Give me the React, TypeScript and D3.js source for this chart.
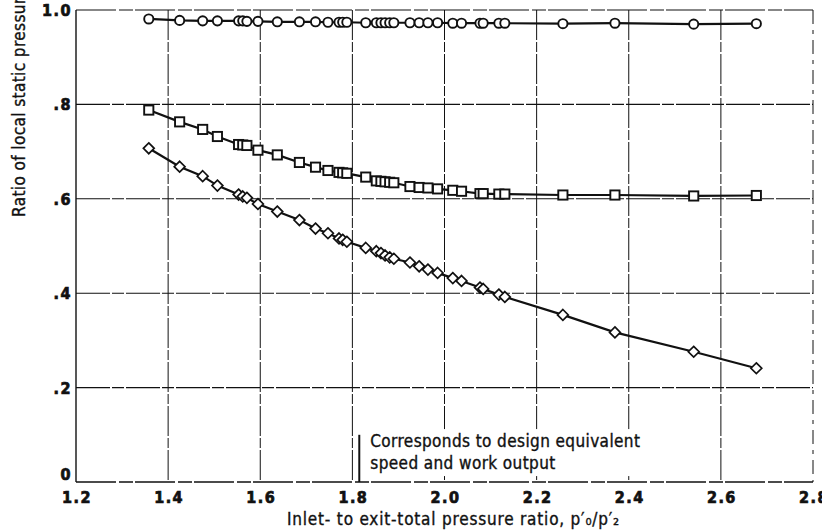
import * as d3 from "d3";
import { useEffect, useRef } from "react";

const W = 822;
const H = 531;

// inlet- to exit-total pressure ratio at each reading (shared by the three stations)
const pressureRatio = [
  1.358, 1.425, 1.475, 1.507, 1.553, 1.562, 1.571, 1.595, 1.637, 1.685, 1.72, 1.747,
  1.771, 1.779, 1.788, 1.829, 1.852, 1.862, 1.871, 1.881, 1.89, 1.925, 1.945, 1.964,
  1.985, 2.018, 2.037, 2.077, 2.084, 2.118, 2.131, 2.257, 2.37, 2.541, 2.677,
];
const circleSeries = [
  0.981, 0.978, 0.977, 0.977, 0.977, 0.977, 0.976, 0.976, 0.975, 0.975, 0.975, 0.974,
  0.974, 0.974, 0.974, 0.973, 0.973, 0.973, 0.973, 0.973, 0.973, 0.973, 0.973, 0.973,
  0.973, 0.972, 0.972, 0.972, 0.972, 0.972, 0.972, 0.971, 0.972, 0.970, 0.971,
];
const squareSeries = [
  0.788, 0.763, 0.747, 0.732, 0.715, 0.714, 0.713, 0.703, 0.693, 0.677, 0.667, 0.66,
  0.656, 0.655, 0.654, 0.646, 0.638, 0.637, 0.636, 0.635, 0.634, 0.626, 0.624, 0.623,
  0.621, 0.618, 0.616, 0.611, 0.611, 0.61, 0.61, 0.608, 0.608, 0.606, 0.607,
];
const diamondSeries = [
  0.707, 0.668, 0.648, 0.628, 0.609, 0.605, 0.602, 0.589, 0.573, 0.555, 0.537, 0.527,
  0.516, 0.513, 0.509, 0.496, 0.489, 0.485, 0.48, 0.476, 0.473, 0.465, 0.457, 0.45,
  0.443, 0.432, 0.426, 0.412, 0.409, 0.397, 0.392, 0.354, 0.317, 0.276, 0.241,
];

const xTicks = [1.2, 1.4, 1.6, 1.8, 2.0, 2.2, 2.4, 2.6, 2.8];
const xTickLabels = ["1.2", "1.4", "1.6", "1.8", "2.0", "2.2", "2.4", "2.6", "2.8"];
const yTicks = [0, 0.2, 0.4, 0.6, 0.8, 1.0];
const yTickLabels = ["0", ".2", ".4", ".6", ".8", "1.0"];

const designRatio = 1.815;
const noteLines = ["Corresponds to design equivalent", "speed and work output"];

const FONT = "'DejaVu Sans Condensed', 'Liberation Sans Narrow', 'DejaVu Sans', sans-serif";
const INK = "#111";

type Shape = "circle" | "square" | "diamond";

function Marker({ shape, cx, cy }: { shape: Shape; cx: number; cy: number }) {
  if (shape === "circle") return <circle cx={cx} cy={cy} r={4.6} fill="#fff" stroke={INK} strokeWidth={1.9} />;
  if (shape === "square") return <rect x={cx - 4.6} y={cy - 4.6} width={9.2} height={9.2} fill="#fff" stroke={INK} strokeWidth={1.9} />;
  const r = 5.4;
  return <path d={`M${cx},${cy - r}L${cx + r},${cy}L${cx},${cy + r}L${cx - r},${cy}Z`} fill="#fff" stroke={INK} strokeWidth={1.7} />;
}

export default function App() {
  const noteRef = useRef<SVGGElement>(null);
  const maskRef = useRef<SVGRectElement>(null);

  const x = d3.scaleLinear().domain([1.2, 2.8]).range([76, 813]);
  const y = d3.scaleLinear().domain([0, 1]).range([482, 10]);

  const series: { shape: Shape; values: number[] }[] = [
    { shape: "circle", values: circleSeries },
    { shape: "square", values: squareSeries },
    { shape: "diamond", values: diamondSeries },
  ];

  const line = d3
    .line<number>()
    .x((_, i) => x(pressureRatio[i]))
    .y((d) => y(d));

  // white patch behind the note so the grid breaks around it, as on the original
  useEffect(() => {
    if (!noteRef.current || !maskRef.current) return;
    const b = noteRef.current.getBBox();
    d3.select(maskRef.current)
      .attr("x", b.x - 3)
      .attr("y", b.y - 2)
      .attr("width", b.width + 6)
      .attr("height", b.height + 5);
  }, []);

  const dx = x(designRatio);
  const textInk = { fill: INK, stroke: INK, strokeWidth: 0.35 };

  return (
    <svg width={W} height={H} style={{ position: "absolute", left: 0, top: 0, background: "#fff" }} fontFamily={FONT}>
      {/* grid */}
      {xTicks.slice(1, -1).map((t) => (
        <line key={`gx${t}`} x1={x(t)} x2={x(t)} y1={y(1)} y2={y(0)} stroke={INK} strokeWidth={1} strokeDasharray="30 2 10 2" />
      ))}
      {yTicks.slice(1, -1).map((t) => (
        <line key={`gy${t}`} x1={x(1.2)} x2={x(2.8)} y1={y(t)} y2={y(t)} stroke={INK} strokeWidth={1.1} strokeDasharray="34 2 12 2" />
      ))}

      {/* note */}
      <rect ref={maskRef} fill="#fff" />
      <line x1={dx} x2={dx} y1={y(0.1)} y2={y(0)} stroke={INK} strokeWidth={2} />
      <g ref={noteRef} fontSize={17} letterSpacing={0.4} {...textInk}>
        {noteLines.map((s, i) => (
          <text key={s} x={dx + 11} y={y(0.074) + i * 22}>{s}</text>
        ))}
      </g>

      {/* frame */}
      <line x1={x(1.2)} x2={x(1.2)} y1={y(1)} y2={y(0)} stroke={INK} strokeWidth={1.4} />
      <line x1={x(1.2)} x2={x(2.8)} y1={y(0)} y2={y(0)} stroke={INK} strokeWidth={1.3} strokeDasharray="40 3 14 2" />
      <line x1={x(1.2)} x2={x(2.8)} y1={y(1)} y2={y(1)} stroke={INK} strokeWidth={1.2} strokeDasharray="40 3 14 2" />
      <line x1={x(2.8)} x2={x(2.8)} y1={y(1)} y2={y(0)} stroke={INK} strokeWidth={1} strokeDasharray="14 6 4 6" />

      {/* series */}
      {series.map((s) => (
        <g key={s.shape}>
          <path d={line(s.values) ?? ""} fill="none" stroke={INK} strokeWidth={2.2} />
          {s.values.map((v, i) => (
            <Marker key={i} shape={s.shape} cx={x(pressureRatio[i])} cy={y(v)} />
          ))}
        </g>
      ))}

      {/* tick labels */}
      <g fontSize={16} fontWeight={700} fill={INK} stroke={INK} strokeWidth={0.7}>
        {xTicks.map((t, i) => (
          <text key={`xl${t}`} x={x(t) + 1} y={503} textAnchor="middle" letterSpacing={1.5}>{xTickLabels[i]}</text>
        ))}
        {yTicks.map((t, i) => (
          <text key={`yl${t}`} x={72} y={Math.min(y(t) + 6, 480)} textAnchor="end" letterSpacing={1.5}>{yTickLabels[i]}</text>
        ))}
      </g>

      {/* axis titles */}
      <text x={287} y={525} fontSize={17} letterSpacing={0.8} {...textInk}>
        Inlet- to exit-total pressure ratio,  p′₀/p′₂
      </text>
      <text transform="translate(25,217) rotate(-90)" fontSize={17} letterSpacing={0.4} {...textInk}>
        Ratio of local static pressure to inlet-total pressure
      </text>
    </svg>
  );
}
